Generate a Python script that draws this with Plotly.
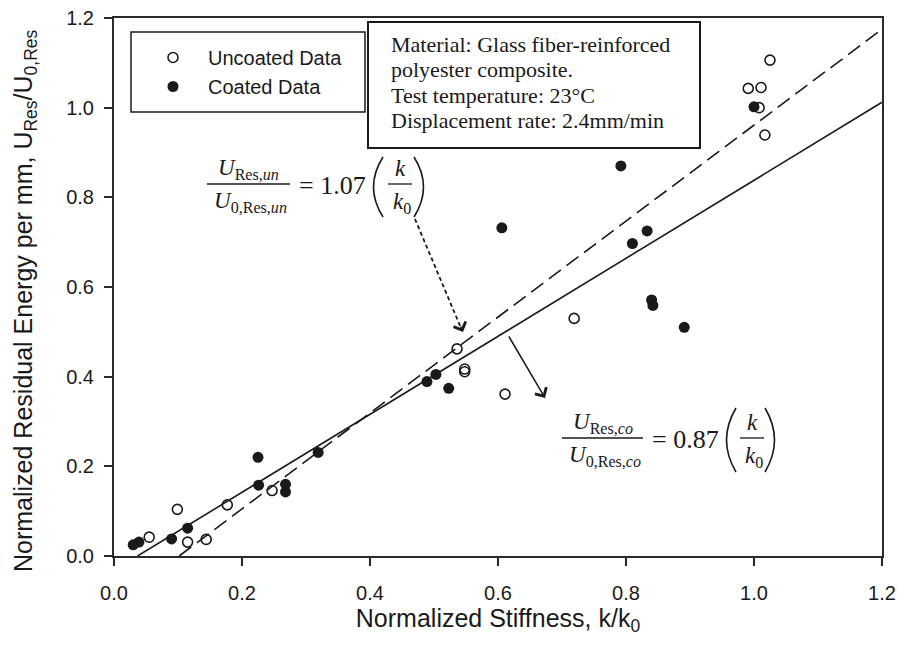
import plotly.graph_objects as go

# ---- figure geometry ----
W, H = 899, 651
ML, MR, MT, MB = 114, 17, 18, 95
X_RANGE = [0.0, 1.2]
Y_RANGE = [0.0, 1.2]

# ---- measured data: normalized stiffness k/k0 and residual energy U/U0 ----
uncoated_k = [0.055, 0.099, 0.115, 0.144, 0.177, 0.247, 0.536, 0.548, 0.548,
              0.611, 0.719, 0.991, 1.008, 1.011, 1.017, 1.025]
uncoated_u = [0.042, 0.104, 0.031, 0.037, 0.114, 0.146, 0.462, 0.417, 0.411,
              0.361, 0.530, 1.043, 1.000, 1.045, 0.939, 1.106]

coated_k = [0.030, 0.039, 0.090, 0.115, 0.225, 0.226, 0.268, 0.268, 0.319,
            0.489, 0.503, 0.523, 0.606, 0.792, 0.810, 0.833, 0.840, 0.842,
            0.891, 1.000]
coated_u = [0.025, 0.031, 0.038, 0.062, 0.220, 0.158, 0.160, 0.143, 0.231,
            0.389, 0.405, 0.374, 0.732, 0.870, 0.697, 0.725, 0.571, 0.559,
            0.510, 1.002]

# ---- linear fits (slope from the fitted equations) ----
slope_uncoated, intercept_uncoated = 1.07, -0.109
slope_coated, intercept_coated = 0.87, -0.032

x_ticks = [0.0, 0.2, 0.4, 0.6, 0.8, 1.0, 1.2]
y_ticks = [0.0, 0.2, 0.4, 0.6, 0.8, 1.0, 1.2]

info_lines = ["Material: Glass fiber-reinforced",
              "polyester composite.",
              "Test temperature: 23°C",
              "Displacement rate: 2.4mm/min"]

PW = W - ML - MR
PH = H - MT - MB


def dx(px):
    return X_RANGE[0] + (px - ML) / PW * (X_RANGE[1] - X_RANGE[0])


def dy(py):
    return Y_RANGE[0] + (H - MB - py) / PH * (Y_RANGE[1] - Y_RANGE[0])


def fit_line(m, b):
    xs = [max(X_RANGE[0], -b / m), X_RANGE[1]]
    return xs, [m * x + b for x in xs]


SANS = "Liberation Sans, Arial, sans-serif"
SERIF = "Liberation Serif, Times New Roman, serif"
INK = "#1a1a1a"

fig = go.Figure()

fig.add_trace(go.Scatter(
    x=uncoated_k, y=uncoated_u, mode="markers", name="Uncoated Data",
    marker=dict(symbol="circle-open", size=10, color=INK, line=dict(width=1.6)),
))
fig.add_trace(go.Scatter(
    x=coated_k, y=coated_u, mode="markers", name="Coated Data",
    marker=dict(symbol="circle", size=11, color=INK),
))

ux, uy = fit_line(slope_uncoated, intercept_uncoated)
fig.add_trace(go.Scatter(x=ux, y=uy, mode="lines", showlegend=False,
                         line=dict(color=INK, width=1.6, dash="15px,7px"),
                         hoverinfo="skip"))
cx, cy = fit_line(slope_coated, intercept_coated)
fig.add_trace(go.Scatter(x=cx, y=cy, mode="lines", showlegend=False,
                         line=dict(color=INK, width=1.6),
                         hoverinfo="skip"))

shapes = []
annotations = []

# legend frame
shapes.append(dict(type="rect", xref="x", yref="y",
                   x0=dx(131), x1=dx(365), y0=dy(32), y1=dy(112),
                   line=dict(color=INK, width=1.5), fillcolor="rgba(0,0,0,0)"))

# information box
shapes.append(dict(type="rect", xref="x", yref="y",
                   x0=dx(368), x1=dx(700), y0=dy(22), y1=dy(148),
                   line=dict(color=INK, width=2), fillcolor="white"))
for i, line in enumerate(info_lines):
    annotations.append(dict(xref="x", yref="y", x=dx(389), y=dy(44 + 25.5 * i),
                            text=line, showarrow=False, xanchor="left",
                            yanchor="middle",
                            font=dict(family=SERIF, size=22, color=INK)))


def equation(num, den, coef, fx0, fx1, fy, kx, parx0, parx1, pary0, pary1):
    eq_font = dict(family=SERIF, size=23, color=INK)
    fc = (fx0 + fx1) / 2
    annotations.append(dict(xref="x", yref="y", x=dx(fc), y=dy(fy - 15), text=num,
                            showarrow=False, font=eq_font))
    annotations.append(dict(xref="x", yref="y", x=dx(fc + 2), y=dy(fy + 18), text=den,
                            showarrow=False, font=eq_font))
    shapes.append(dict(type="line", xref="x", yref="y", x0=dx(fx0), x1=dx(fx1),
                       y0=dy(fy), y1=dy(fy), line=dict(color=INK, width=1.3)))
    annotations.append(dict(xref="x", yref="y", x=dx(fx1 + 7), y=dy(fy + 1),
                            text="= " + coef, showarrow=False, xanchor="left",
                            font=dict(family=SERIF, size=26, color=INK)))
    annotations.append(dict(xref="x", yref="y", x=dx(kx), y=dy(fy - 16),
                            text="<i>k</i>", showarrow=False, font=eq_font))
    annotations.append(dict(xref="x", yref="y", x=dx(kx + 2), y=dy(fy + 19),
                            text="<i>k</i><sub>0</sub>", showarrow=False,
                            font=eq_font))
    shapes.append(dict(type="line", xref="x", yref="y", x0=dx(kx - 12),
                       x1=dx(kx + 12), y0=dy(fy), y1=dy(fy),
                       line=dict(color=INK, width=1.3)))
    pm = (pary0 + pary1) / 2
    shapes.append(dict(type="path", xref="x", yref="y",
                       path=f"M {dx(parx0 + 10)},{dy(pary0)} Q {dx(parx0 - 9)},{dy(pm)} {dx(parx0 + 10)},{dy(pary1)}",
                       line=dict(color=INK, width=1.6)))
    shapes.append(dict(type="path", xref="x", yref="y",
                       path=f"M {dx(parx1 - 10)},{dy(pary0)} Q {dx(parx1 + 9)},{dy(pm)} {dx(parx1 - 10)},{dy(pary1)}",
                       line=dict(color=INK, width=1.6)))


equation("<i>U</i><sub>Res,<i>un</i></sub>", "<i>U</i><sub>0,Res,<i>un</i></sub>",
         "1.07", 207, 290, 184, 400, 373, 424, 157, 217)
equation("<i>U</i><sub>Res,<i>co</i></sub>", "<i>U</i><sub>0,Res,<i>co</i></sub>",
         "0.87", 562, 643, 438, 752, 726, 775, 408, 472)

# dotted pointer to the uncoated fit
shapes.append(dict(type="line", xref="x", yref="y", x0=dx(415), y0=dy(219),
                   x1=dx(461), y1=dy(328), line=dict(color=INK, width=1.8, dash="4px,3px")))
annotations.append(dict(xref="x", yref="y", x=dx(463), y=dy(332), text="",
                        showarrow=True, ax=-3, ay=-7, arrowhead=4, arrowsize=1.7,
                        arrowwidth=1.5, arrowcolor=INK))
# solid pointer from the coated fit
annotations.append(dict(xref="x", yref="y", x=dx(545), y=dy(398), text="",
                        showarrow=True, ax=-37, ay=-63, arrowhead=4, arrowsize=1.7,
                        arrowwidth=1.5, arrowcolor=INK))

# y-axis title
annotations.append(dict(xref="paper", yref="paper", x=(25 - ML) / PW,
                        y=(H - MB - 301) / PH, xanchor="center", yanchor="middle",
                        textangle=-90, showarrow=False,
                        text="Normalized Residual Energy per mm, U<sub>Res</sub>/U<sub>0,Res</sub>",
                        font=dict(family=SANS, size=25, color=INK)))

axis_common = dict(
    showgrid=False, zeroline=False, showline=True, linecolor="#2a2a2a",
    linewidth=2, mirror=True, ticks="outside", ticklen=8, tickwidth=1.5,
    tickcolor="#2a2a2a", tickformat=".1f", automargin=False,
    tickfont=dict(family=SANS, size=20, color=INK),
)

fig.update_layout(
    width=W, height=H,
    margin=dict(l=ML, r=MR, t=MT, b=MB, pad=0, autoexpand=False),
    paper_bgcolor="white", plot_bgcolor="white",
    xaxis=dict(range=X_RANGE, tickvals=x_ticks, ticklabelstandoff=10,
               title=dict(text="Normalized Stiffness, k/k<sub>0</sub>",
                          font=dict(family=SANS, size=25, color=INK), standoff=2),
               **axis_common),
    yaxis=dict(range=Y_RANGE, tickvals=y_ticks, ticklabelstandoff=6, **axis_common),
    showlegend=True,
    legend=dict(x=(138 - ML) / PW, y=(H - MB - 38) / PH, xanchor="left", yanchor="top",
                bgcolor="rgba(0,0,0,0)", borderwidth=0, itemwidth=60,
                font=dict(family=SANS, size=20, color=INK), tracegroupgap=0),
    shapes=shapes,
    annotations=annotations,
)

fig.write_html("out.html")
